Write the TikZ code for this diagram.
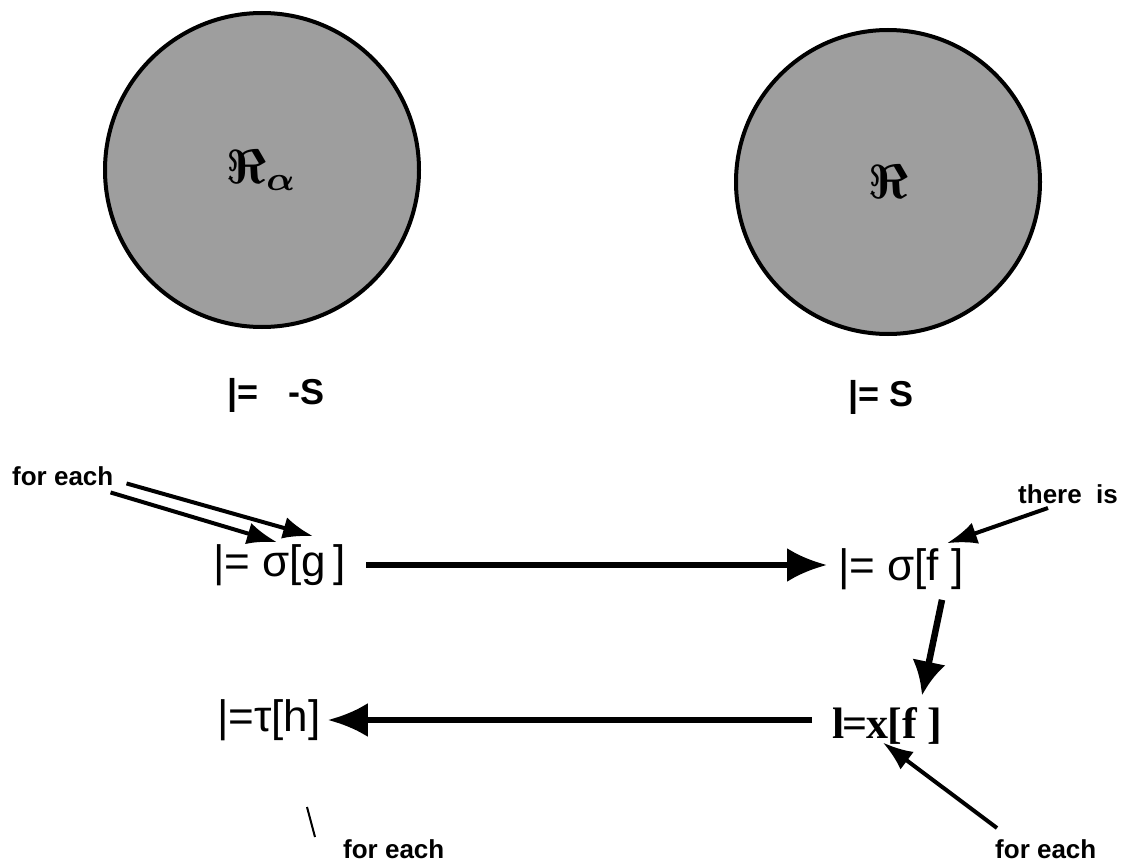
\documentclass[tikz,border=0pt]{standalone}
\usepackage{fontspec}
\setmainfont{Liberation Sans}
\newfontfamily\timesfont{Liberation Serif}
\usepackage{amsmath}
\usepackage{tikz}
\usetikzlibrary{arrows.meta}

\begin{document}
\begin{tikzpicture}[
  x=1pt, y=-1pt,
  world/.style={
    circle,
    draw=black,
    fill=black!38,
    line width=4pt,
    inner sep=0pt
  },
  formula/.style={
    font=\fontsize{44}{52}\selectfont,
    inner sep=0pt
  },
  verdict/.style={
    font=\fontsize{36}{42}\selectfont\bfseries,
    inner sep=0pt
  },
  note/.style={
    font=\fontsize{26}{30}\selectfont\bfseries,
    inner sep=0pt
  },
  mainarrow/.style={
    line width=5.5pt,
    -{Latex[length=40pt,width=34pt]}
  },
  pointer/.style={
    line width=4pt,
    -{Latex[length=30pt,width=22pt]}
  }
]

\useasboundingbox (0,0) rectangle (1128,867);

% -------------------------------------------------------------------
% the two structures
% -------------------------------------------------------------------
\node[world, minimum size=314pt] (Ralpha) at (262,170)
{\scalebox{4.8}{$\boldsymbol{\Re}_{\boldsymbol{\alpha}}$}};

\node[world, minimum size=304pt] (R) at (888,182)
{\scalebox{4.8}{$\boldsymbol{\Re}$}};

\node[verdict, anchor=west] (negS) at (227,395) {|=\hspace{30pt}-S};
\node[verdict, anchor=west] (posS) at (848,397) {|= S};

% -------------------------------------------------------------------
% formulas
% -------------------------------------------------------------------
\node[formula, anchor=west] (sg) at (213,565) {|= σ[g\,]};
\node[formula, anchor=west] (sf) at (838,569) {|= σ[f ]};
\node[formula, anchor=west, font=\fontsize{44}{52}\selectfont\timesfont\bfseries]
  (lx) at (832,726) {l\kern-2pt=\kern-1pt x\kern-1pt[f ]};
\node[formula, anchor=west] (th) at (217,720) {|=τ[h]};

% labels
\node[note, anchor=base west] (each1) at (12,485) {for each};
\node[note, anchor=base west] (there) at (1018,503) {there\ \ is};
\node[note, anchor=base west] (each2) at (343,858) {for each};
\node[note, anchor=base west] (each3) at (995,858) {for each};

% -------------------------------------------------------------------
% connectors
% -------------------------------------------------------------------
\draw[mainarrow, shorten <=20pt, shorten >=11pt]
  (sg.east) -- (sg.east -| sf.west);
\draw[mainarrow, line width=6.5pt, -{Latex[length=34pt,width=34pt]}]
  ([xshift=104pt,yshift=-10pt]sf.south west)
  -- ([xshift=90pt,yshift=12pt]lx.north west);
\draw[mainarrow, shorten <=20pt, shorten >=7pt]
  (lx.west |- th.east) -- (th.east);

\draw[pointer] ([xshift=-3pt,yshift=-7pt]each1.south east)
  -- ([xshift=64pt,yshift=2pt]sg.north west);
\draw[pointer] ([xshift=13pt,yshift=2pt]each1.south east)
  -- ([xshift=100pt,yshift=8pt]sg.north west);
\draw[pointer] ([xshift=30pt,yshift=-5pt]there.base west)
  -- ([xshift=109pt,yshift=5pt]sf.north west);
\draw[pointer] ([xshift=2pt,yshift=30pt]each3.base west)
  -- ([xshift=51pt,yshift=2pt]lx.south west);

% stray stroke
\draw[line width=2pt] ([xshift=-36pt,yshift=51pt]each2.base west)
  -- ([xshift=-28pt,yshift=21pt]each2.base west);

\end{tikzpicture}
\end{document}
